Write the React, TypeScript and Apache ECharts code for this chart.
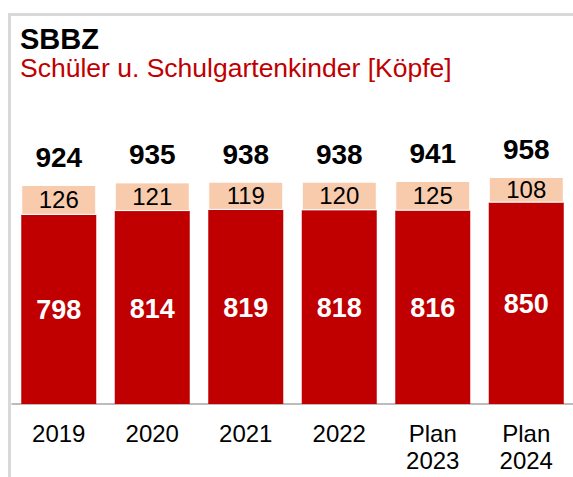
import React, { useEffect, useRef } from "react";
import * as echarts from "echarts";

const categories = ["2019", "2020", "2021", "2022", "Plan\n2023", "Plan\n2024"];
const schueler = [798, 814, 819, 818, 816, 850];
const schulgarten = [126, 121, 119, 120, 125, 108];
const totals = schueler.map((v, i) => v + schulgarten[i]);

const FONT = "'Liberation Sans', Arial, Helvetica, sans-serif";
const DARK_RED = "#C00000";
const PEACH = "#F8CBAD";

export default function App() {
  const ref = useRef<HTMLDivElement>(null);

  useEffect(() => {
    if (!ref.current) return;
    const chart = echarts.init(ref.current, undefined, { renderer: "svg" });
    chart.setOption({
      animation: false,
      backgroundColor: "#ffffff",
      textStyle: { fontFamily: FONT },
      grid: { left: 12, right: -4, top: 167, bottom: 73, containLabel: false },
      graphic: [
        {
          type: "line",
          shape: { x1: 8, y1: 14.5, x2: 573, y2: 14.5 },
          style: { stroke: "#d9d9d9", lineWidth: 3 },
          silent: true,
        },
        {
          type: "line",
          shape: { x1: 9.5, y1: 13, x2: 9.5, y2: 477 },
          style: { stroke: "#d9d9d9", lineWidth: 3 },
          silent: true,
        },
        {
          type: "text",
          left: 20,
          top: 24,
          style: {
            text: "SBBZ",
            font: `bold 29px ${FONT}`,
            fill: "#000000",
          },
        },
        {
          type: "text",
          left: 20,
          top: 54,
          style: {
            text: "Schüler u. Schulgartenkinder [Köpfe]",
            font: `26.5px ${FONT}`,
            fill: DARK_RED,
          },
        },
      ],
      xAxis: {
        type: "category",
        data: categories,
        axisLine: { show: true, lineStyle: { color: "#a6a6a6", width: 1.5 } },
        axisTick: { show: false },
        axisLabel: {
          color: "#000000",
          fontSize: 24,
          lineHeight: 27,
          margin: 16,
          fontFamily: FONT,
          interval: 0,
        },
      },
      yAxis: {
        type: "value",
        min: 0,
        max: 1000,
        show: false,
        splitLine: { show: false },
      },
      series: [
        {
          name: "Schüler",
          type: "bar",
          stack: "total",
          barWidth: 75,
          data: schueler,
          itemStyle: { color: DARK_RED },
          label: {
            show: true,
            position: "inside",
            color: "#ffffff",
            fontWeight: "bold",
            fontSize: 27,
            fontFamily: FONT,
            offset: [0, 1],
          },
        },
        {
          name: "Schulgartenkinder",
          type: "bar",
          stack: "total",
          barWidth: 75,
          data: schulgarten,
          itemStyle: { color: PEACH, borderColor: "#ffffff", borderWidth: 1 },
          label: {
            show: true,
            position: "inside",
            color: "#000000",
            fontSize: 24,
            fontFamily: FONT,
          },
        },
        {
          name: "Gesamt",
          type: "line",
          data: totals,
          symbol: "circle",
          symbolSize: 1,
          showSymbol: true,
          itemStyle: { color: "rgba(0,0,0,0)" },
          lineStyle: { opacity: 0 },
          label: {
            show: true,
            position: "top",
            distance: 13,
            color: "#000000",
            fontWeight: "bold",
            fontSize: 28,
            fontFamily: FONT,
          },
        },
      ],
    });
    return () => chart.dispose();
  }, []);

  return (
    <div
      ref={ref}
      style={{ position: "fixed", left: 0, top: 0, width: 573, height: 477 }}
    />
  );
}
